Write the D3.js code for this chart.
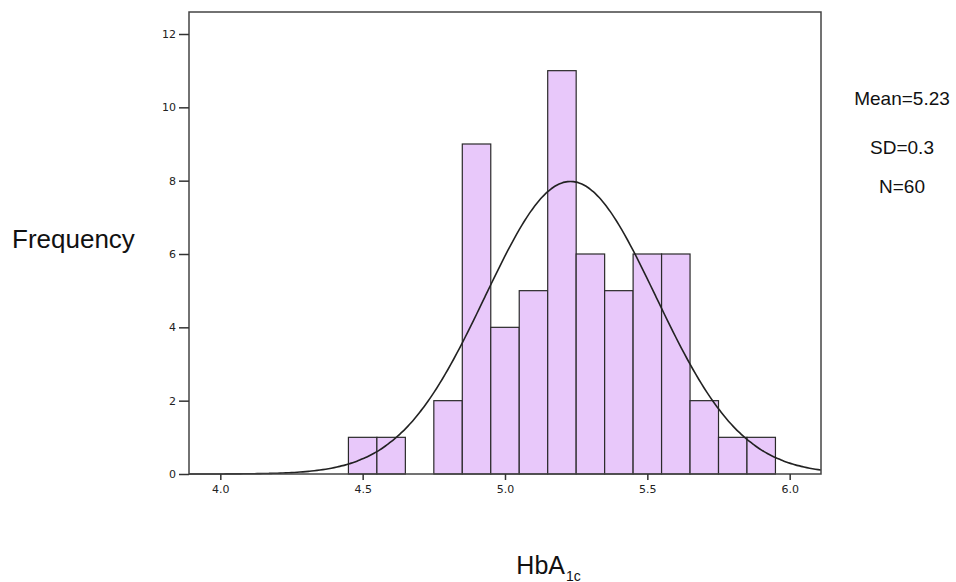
<!DOCTYPE html>
<html lang="en">
<head>
    <meta charset="UTF-8">
    <title>HbA1c Histogram</title>
    <style>
        body { margin: 0; background: #fff; }
        .tick text { font-family: "DejaVu Sans", sans-serif; font-size: 11px; fill: #222; }
        .tick line { stroke: #333; }
        .label { font-family: "Liberation Sans", Arial, sans-serif; fill: #111; }
    </style>
</head>
<body>
    <svg width="956" height="582"></svg>
    <script src="https://d3js.org/d3.v7.min.js"></script>
    <script>
        // Bin centres (width 0.1) and counts
        const binCenters = [4.5, 4.6, 4.7, 4.8, 4.9, 5.0, 5.1, 5.2, 5.3, 5.4, 5.5, 5.6, 5.7, 5.8, 5.9];
        const counts     = [1,   1,   0,   2,   9,   4,   5,   11,  6,   5,   6,   6,   2,   1,   1];
        const binWidth = 0.1;

        const xTickValues = [4.0, 4.5, 5.0, 5.5, 6.0];
        const yTickValues = [0, 2, 4, 6, 8, 10, 12];

        // Summary statistics shown on the right
        const mean = 5.23;
        const sd = 0.3;
        const n = 60;
        const statLabels = ['Mean=5.23', 'SD=0.3', 'N=60'];

        const data = binCenters.map(function (c, i) {
            return { x0: c - binWidth / 2, x1: c + binWidth / 2, count: counts[i] };
        });

        const margin = { left: 189, right: 135, top: 12, bottom: 108 };
        const svg = d3.select('svg');
        const width = +svg.attr('width');
        const height = +svg.attr('height');
        const innerWidth = width - margin.left - margin.right;
        const innerHeight = height - margin.top - margin.bottom;

        const xScale = d3.scaleLinear().domain([3.89, 6.11]).range([0, innerWidth]);
        const yScale = d3.scaleLinear().domain([0, 12.6]).range([innerHeight, 0]);

        const g = svg.append('g')
            .attr('transform', 'translate(' + margin.left + ' ' + margin.top + ')');

        // bars
        g.selectAll('rect.bar')
            .data(data.filter(function (d) { return d.count > 0; }))
            .enter()
            .append('rect')
            .attr('class', 'bar')
            .attr('x', function (d) { return xScale(d.x0); })
            .attr('width', function (d) { return xScale(d.x1) - xScale(d.x0); })
            .attr('y', function (d) { return yScale(d.count); })
            .attr('height', function (d) { return innerHeight - yScale(d.count); })
            .attr('fill', '#e8c8fa')
            .attr('stroke', '#2a2a2a')
            .attr('stroke-width', 1.2);

        // fitted normal curve, scaled to counts per bin
        const curvePts = d3.range(xScale.domain()[0], xScale.domain()[1] + 0.001, 0.01).map(function (x) {
            const z = (x - mean) / sd;
            return [x, n * binWidth * Math.exp(-0.5 * z * z) / (sd * Math.sqrt(2 * Math.PI))];
        });

        const line = d3.line()
            .x(function (d) { return xScale(d[0]); })
            .y(function (d) { return yScale(d[1]); })
            .curve(d3.curveBasis);

        g.append('path')
            .attr('d', line(curvePts))
            .attr('fill', 'none')
            .attr('stroke', '#222')
            .attr('stroke-width', 1.6);

        // frame
        g.append('rect')
            .attr('x', 0).attr('y', 0)
            .attr('width', innerWidth).attr('height', innerHeight)
            .attr('fill', 'none')
            .attr('stroke', '#444')
            .attr('stroke-width', 1.5);

        // axes
        const xAxisG = g.append('g')
            .attr('transform', 'translate(0 ' + innerHeight + ')')
            .call(d3.axisBottom(xScale).tickValues(xTickValues).tickFormat(d3.format('.1f')).tickSize(6).tickPadding(5));
        xAxisG.select('.domain').remove();

        const yAxisG = g.append('g')
            .call(d3.axisLeft(yScale).tickValues(yTickValues).tickSize(10).tickPadding(3));
        yAxisG.select('.domain').remove();

        g.selectAll('.tick line').attr('stroke-width', 1.5);

        // axis titles
        svg.append('text')
            .attr('class', 'label')
            .attr('x', 12).attr('y', 248)
            .style('font-size', '26px')
            .text('Frequency');

        svg.append('text')
            .attr('class', 'label')
            .attr('x', 565).attr('y', 574)
            .attr('text-anchor', 'end')
            .style('font-size', '25px')
            .text('HbA');
        svg.append('text')
            .attr('class', 'label')
            .attr('x', 566).attr('y', 581)
            .style('font-size', '14px')
            .text('1c');

        // stats, centred in the right margin
        const statY = [105, 154, 193];
        svg.selectAll('text.stat')
            .data(statLabels)
            .enter()
            .append('text')
            .attr('class', 'label stat')
            .attr('x', 902)
            .attr('y', function (d, i) { return statY[i]; })
            .attr('text-anchor', 'middle')
            .style('font-size', '19px')
            .text(function (d) { return d; });
    </script>
</body>
</html>
